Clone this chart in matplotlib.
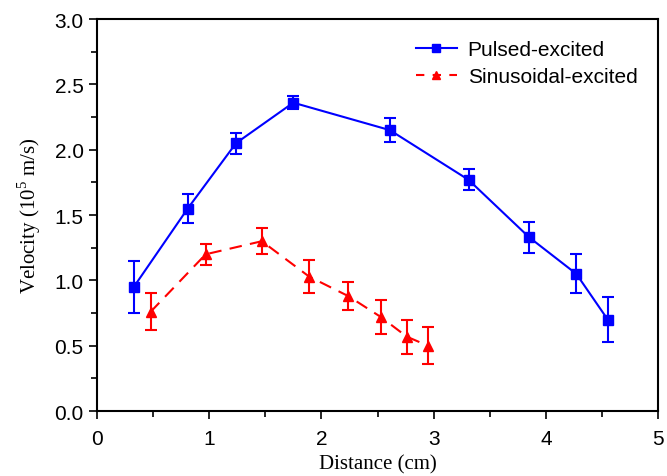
import matplotlib
matplotlib.use("Agg")
import matplotlib.pyplot as plt
from matplotlib.ticker import MultipleLocator, FormatStrFormatter
from matplotlib.lines import Line2D

# pulsed-excited series
pulsed_x = [0.33, 0.81, 1.24, 1.75, 2.61, 3.31, 3.85, 4.27, 4.55]
pulsed_v = [0.95, 1.55, 2.05, 2.36, 2.15, 1.77, 1.33, 1.05, 0.70]
pulsed_err = [0.20, 0.11, 0.08, 0.05, 0.09, 0.08, 0.12, 0.15, 0.17]

# sinusoidal-excited series
sin_x = [0.48, 0.97, 1.47, 1.89, 2.24, 2.53, 2.76, 2.95]
sin_v = [0.76, 1.20, 1.30, 1.03, 0.88, 0.72, 0.57, 0.50]
sin_err = [0.14, 0.08, 0.10, 0.13, 0.11, 0.13, 0.13, 0.14]

fig = plt.figure(figsize=(6.67, 4.77), dpi=100)
ax = fig.add_axes([0.145, 0.136, 0.842, 0.822])

ax.errorbar(pulsed_x, pulsed_v, yerr=pulsed_err, color='#0000ff', marker='s',
            markersize=7, linewidth=1.5, capsize=4, elinewidth=1.5, capthick=1.5)
ax.errorbar(sin_x, sin_v, yerr=sin_err, color='#ff0000', marker='^',
            markersize=7, linewidth=1.5, linestyle=(0, (6, 4)), capsize=4,
            elinewidth=1.5, capthick=1.5)

ax.set_xlim(0, 5)
ax.set_ylim(0, 3.0)
ax.xaxis.set_major_locator(MultipleLocator(1))
ax.xaxis.set_minor_locator(MultipleLocator(0.5))
ax.yaxis.set_major_locator(MultipleLocator(0.5))
ax.yaxis.set_minor_locator(MultipleLocator(0.25))
ax.yaxis.set_major_formatter(FormatStrFormatter('%.1f'))
ax.tick_params(which='both', direction='out', top=False, right=False)
ax.tick_params(which='major', length=6, width=1.2, labelsize=15)
ax.tick_params(which='minor', length=4, width=1.2)
ax.tick_params(axis='x', which='major', pad=7)
for lab in ax.get_xticklabels() + ax.get_yticklabels():
    lab.set_family('Liberation Sans')
for s in ax.spines.values():
    s.set_linewidth(1.5)

ax.set_xlabel('Distance (cm)', family='Liberation Serif', fontsize=15, labelpad=4)
ax.set_ylabel(r'Velocity (10$^{\mathregular{5}}$ m/s)', family='Liberation Serif',
              fontsize=15, labelpad=8)

handles = [Line2D([], [], color='#0000ff', marker='s', markersize=6, linewidth=1.5),
           Line2D([], [], color='#ff0000', marker='^', markersize=6, linewidth=1.5,
                  linestyle=(0, (4, 4)))]
ax.legend(handles, ['Pulsed-excited', 'Sinusoidal-excited'], loc='upper right',
          frameon=False, prop={'family': 'Liberation Sans', 'size': 15},
          handlelength=2.0, borderaxespad=0.6, labelspacing=0.4, handletextpad=0.5)

fig.savefig('out.png', dpi=100)
